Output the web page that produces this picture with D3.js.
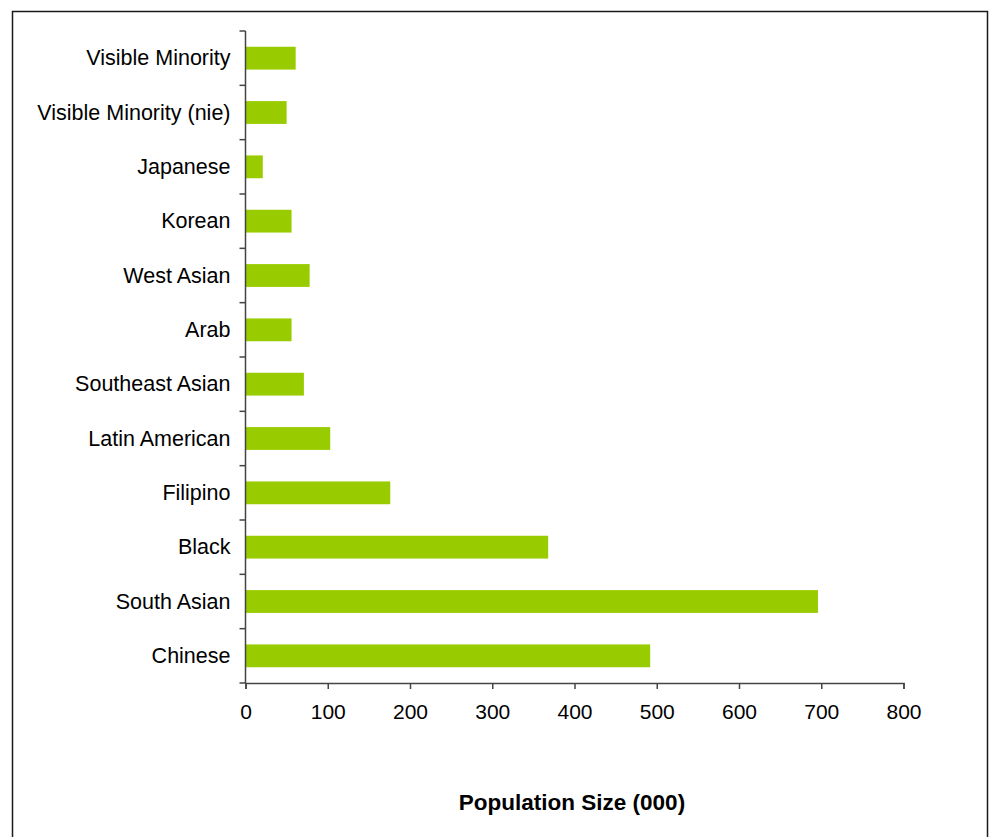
<!DOCTYPE html>
<html lang="en">
<head>
    <meta charset="UTF-8">
    <title>Population Size by Visible Minority Group</title>
    <script src="https://d3js.org/d3.v7.min.js"></script>
    <style>
        body { margin: 0; background: #fff; }
        text { font-family: "Liberation Sans", Arial, sans-serif; fill: #000; }
    </style>
</head>
<body>

<div id="chart"></div>

<script>

// categories listed top to bottom
const groups = [
    'Visible Minority',
    'Visible Minority (nie)',
    'Japanese',
    'Korean',
    'West Asian',
    'Arab',
    'Southeast Asian',
    'Latin American',
    'Filipino',
    'Black',
    'South Asian',
    'Chinese'
];

// population size (000)
const population = [61, 50, 21, 56, 78, 56, 71, 103, 176, 368, 696, 492];

const xTicks = [0, 100, 200, 300, 400, 500, 600, 700, 800];

const width = 989;
const height = 837;

const svg = d3.select("#chart").append("svg")
    .attr("width", width)
    .attr("height", height);

// outer frame
svg.append("rect")
    .attr("x", 12.5)
    .attr("y", 11.5)
    .attr("width", 975)
    .attr("height", 840)
    .attr("fill", "none")
    .attr("stroke", "#1a1a1a")
    .attr("stroke-width", 1.5);

const plotLeft = 245.5, plotRight = 903.5, plotTop = 31, plotBottom = 683;

const x = d3.scaleLinear()
    .domain([0, 800])
    .range([plotLeft, plotRight]);

const y = d3.scaleBand()
    .domain(groups)
    .range([plotTop, plotBottom])
    .paddingInner(0.58)
    .paddingOuter(0.29);

const step = y.step();

// bars
svg.append("g")
    .selectAll("rect")
    .data(groups)
    .join("rect")
    .attr("x", x(0))
    .attr("y", d => y(d))
    .attr("width", (d, i) => x(population[i]) - x(0))
    .attr("height", y.bandwidth())
    .attr("fill", "#99cc00");

// y axis: line, ticks between categories, labels
const yAxis = svg.append("g");
yAxis.append("line")
    .attr("x1", plotLeft).attr("x2", plotLeft)
    .attr("y1", plotTop).attr("y2", plotBottom)
    .attr("stroke", "#444").attr("stroke-width", 1.5);

yAxis.selectAll("line.tick")
    .data(d3.range(groups.length + 1))
    .join("line")
    .attr("class", "tick")
    .attr("x1", plotLeft - 6).attr("x2", plotLeft)
    .attr("y1", i => plotTop + i * step)
    .attr("y2", i => plotTop + i * step)
    .attr("stroke", "#444").attr("stroke-width", 1.5);

yAxis.selectAll("text")
    .data(groups)
    .join("text")
    .attr("x", plotLeft - 15)
    .attr("y", d => y(d) + y.bandwidth() / 2)
    .attr("dy", "0.33em")
    .attr("text-anchor", "end")
    .style("font-size", "21.5px")
    .text(d => d);

// x axis
const xAxis = svg.append("g")
    .attr("transform", `translate(0,${plotBottom})`)
    .call(d3.axisBottom(x).tickValues(xTicks).tickSize(6).tickSizeOuter(6).tickPadding(15));

xAxis.select(".domain").attr("stroke", "#444").attr("stroke-width", 1.5);
xAxis.selectAll(".tick line").attr("stroke", "#444").attr("stroke-width", 1.5);
xAxis.selectAll(".tick text")
    .style("font-size", "21px")
    .style("font-family", '"Liberation Sans", Arial, sans-serif')
    .attr("fill", "#000");

// axis title
svg.append("text")
    .attr("x", 572)
    .attr("y", 810)
    .attr("text-anchor", "middle")
    .style("font-size", "22.5px")
    .style("font-weight", "bold")
    .text("Population Size (000)");

</script>
</body>
</html>
